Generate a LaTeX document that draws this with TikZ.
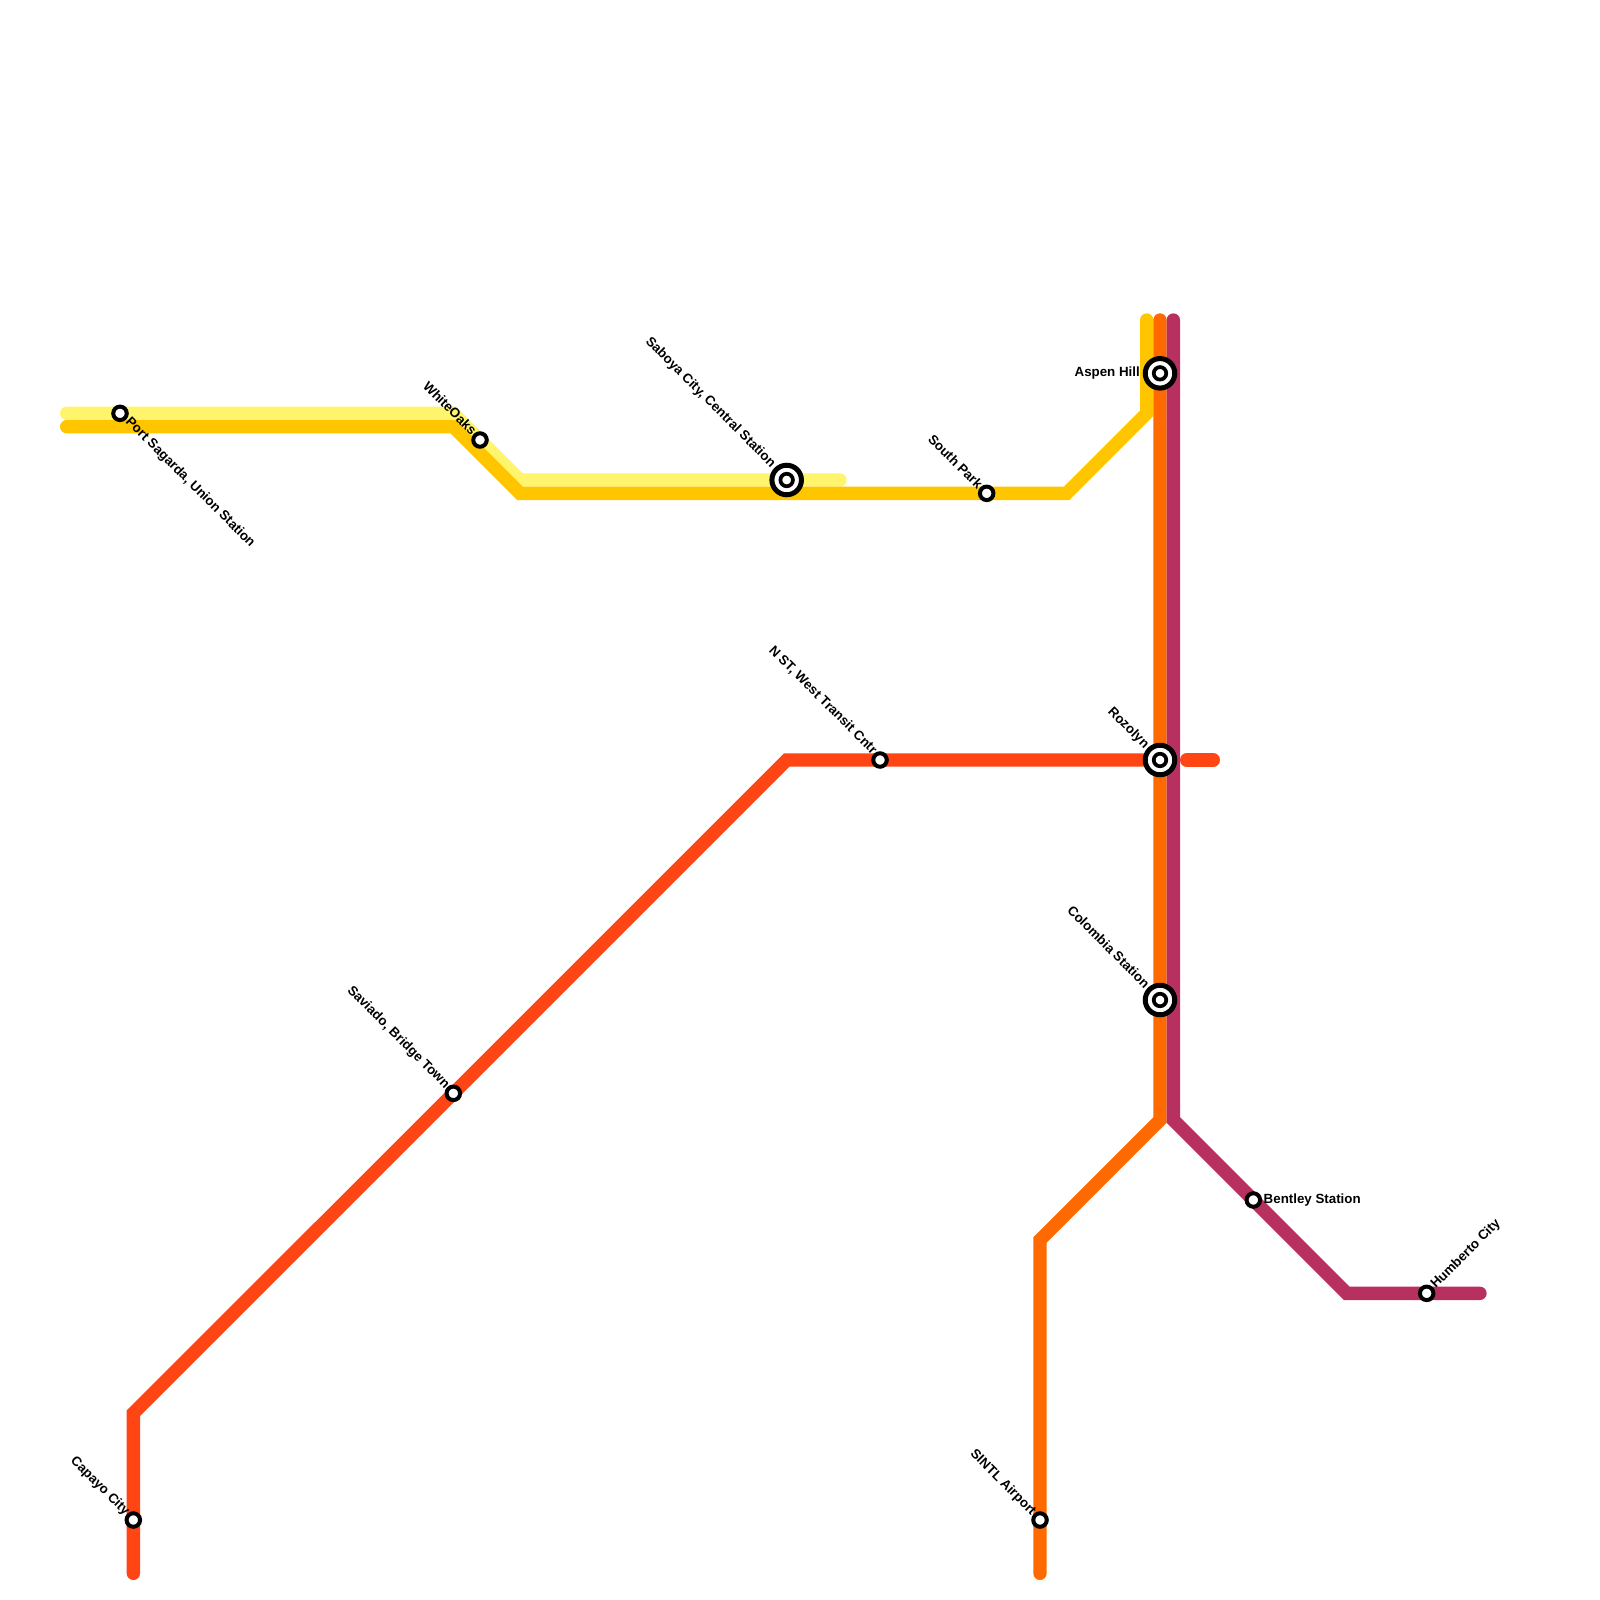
\documentclass[tikz,border=0pt]{standalone}
\usepackage{fontspec}
\setmainfont{Liberation Sans}
\usetikzlibrary{calc, positioning}
\definecolor{palelemon}{HTML}{FFF56D}
\definecolor{amberline}{HTML}{FFC600}
\definecolor{orangeline}{HTML}{FF6A00}
\definecolor{redline}{HTML}{FF4514}
\definecolor{plumline}{HTML}{B8305F}
\tikzset{
    metro/.style={line width=0.1333cm, line cap=round, miter limit=10},
    stop/.style={circle, draw=black, fill=white, line width=0.04cm, minimum size=0.135cm, inner sep=0pt},
    hub/.style={circle, draw=black, fill=white, line width=0.05cm, minimum size=0.295cm, inner sep=0pt},
    hubcore/.style={circle, draw=black, fill=white, line width=0.037cm, minimum size=0.125cm, inner sep=0pt},
    lbl/.style={font=\fontsize{3.79}{4.5}\selectfont\bfseries, inner sep=0pt, text=black}
}
\begin{document}
\begin{tikzpicture}[x=0.01cm, y=-0.01cm]
        \useasboundingbox[fill=white] (0,0) rectangle (1600,1600);

        % bends and line ends
        \coordinate (paleA) at (66.67,413.33);
        \coordinate (paleB) at (453.33,413.33);
        \coordinate (paleC) at (520,480);
        \coordinate (paleD) at (840,480);
        \coordinate (amberA) at (66.67,426.67);
        \coordinate (amberB) at (453.33,426.67);
        \coordinate (amberC) at (520,493.33);
        \coordinate (amberD) at (1066.67,493.33);
        \coordinate (amberE) at (1146.67,413.33);
        \coordinate (amberF) at (1146.67,320);
        \coordinate (orangeA) at (1160,320);
        \coordinate (orangeB) at (1160,1120);
        \coordinate (orangeC) at (1040,1240);
        \coordinate (orangeD) at (1040,1573.33);
        \coordinate (redA) at (133.33,1573.33);
        \coordinate (redB) at (133.33,1413.33);
        \coordinate (redC) at (786.67,760);
        \coordinate (redD) at (1146.67,760);
        \coordinate (redE) at (1186.67,760);
        \coordinate (redF) at (1213.33,760);
        \coordinate (plumA) at (1173.33,320);
        \coordinate (plumB) at (1173.33,1120);
        \coordinate (plumC) at (1346.67,1293.33);
        \coordinate (plumD) at (1480,1293.33);

        % lines
        \draw[metro, palelemon] (paleA) -- (paleB) -- (paleC) -- (paleD);
        \draw[metro, amberline] (amberA) -- (amberB) -- (amberC) -- (amberD) -- (amberE) -- (amberF);
        \draw[metro, redline] (redA) -- (redB) -- (redC) -- (redD);
        \draw[metro, redline] (redE) -- (redF);
        \draw[metro, orangeline] (orangeA) -- (orangeB) -- (orangeC) -- (orangeD);
        \draw[metro, plumline] (plumA) -- (plumB) -- (plumC) -- (plumD);

        % small stations
        \node[stop] (port) at (120,413.33) {};
        \node[stop] (oaks) at (480,440) {};
        \node[stop] (southpark) at (986.67,493.33) {};
        \node[stop] (nst) at (880,760) {};
        \node[stop] (saviado) at (453.33,1093.33) {};
        \node[stop] (capayo) at (133.33,1520) {};
        \node[stop] (sintl) at (1040,1520) {};
        \node[stop] (bentley) at (1253.33,1200) {};
        \node[stop] (humberto) at (1426.67,1293.33) {};

        % interchanges
        \node[hub] (saboya) at (786.67,480) {};
        \node[hub] (aspen) at (1160,373.33) {};
        \node[hub] (rozolyn) at (1160,760) {};
        \node[hub] (colombia) at (1160,1000) {};
        \node[hubcore] (saboyain) at (saboya) {};
        \node[hubcore] (aspenin) at (aspen) {};
        \node[hubcore] (rozolynin) at (rozolyn) {};
        \node[hubcore] (colombiain) at (colombia) {};

        % Labels
        \node[lbl, rotate=-45, anchor=west] (portlbl) at (127,419.5) {Port Sagarda, Union Station};
        \node[lbl, rotate=-45, anchor=east] (oakslbl) at (475,433) {WhiteOaks};
        \node[lbl, rotate=-45, anchor=east] (saboyalbl) at (773.5,466) {Saboya City, Central Station};
        \node[lbl, rotate=-45, anchor=east] (southparklbl) at (981,487) {South Park};
        \node[lbl, anchor=east] (aspenlbl) at (1140.5,373.5) {Aspen Hill};
        \node[lbl, rotate=-45, anchor=east] (nstlbl) at (875,752.5) {N ST, West Transit Cntr};
        \node[lbl, rotate=-45, anchor=east] (rozolynlbl) at (1147,747) {Rozolyn};
        \node[lbl, rotate=-45, anchor=east] (colombialbl) at (1148,986) {Colombia Station};
        \node[lbl, rotate=-45, anchor=east] (saviadolbl) at (447.5,1087) {Saviado, Bridge Town};
        \node[lbl, rotate=-45, anchor=east] (capayolbl) at (127.5,1514) {Capayo City};
        \node[lbl, rotate=-45, anchor=east] (sintllbl) at (1034,1514) {SINTL Airport};
        \node[lbl, anchor=west] (bentleylbl) at (1263,1200) {Bentley Station};
        \node[lbl, rotate=45, anchor=west] (humbertolbl) at (1433,1287) {Humberto City};
    \end{tikzpicture}
\end{document}
